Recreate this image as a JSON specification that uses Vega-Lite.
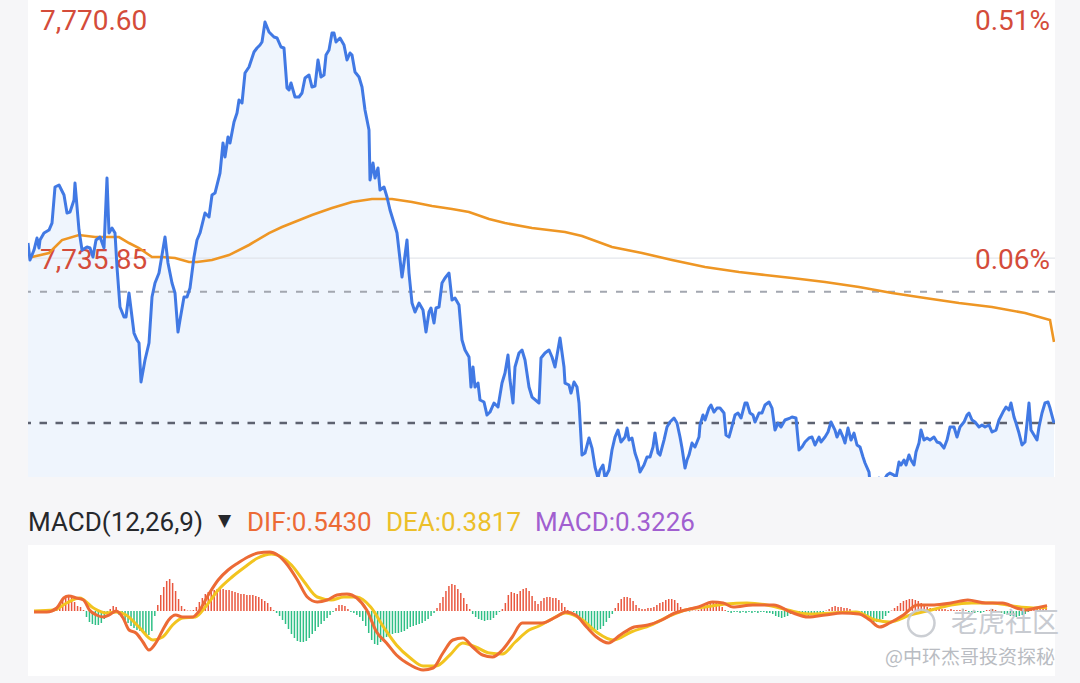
{
  "$schema": "https://vega.github.io/schema/vega-lite/v6.json",
  "background": "#f6f6f8",
  "padding": {"left": 26, "top": 0, "right": 27, "bottom": 7},
  "spacing": 0,
  "config": {"view": {"stroke": null}, "text": {"font": "Roboto"}},
  "datasets": {
    "one": [{"k": 1}],
    "price": [
      {"m":0,"p":7738.07},{"m":1,"p":7735.57},{"m":3,"p":7737.04},{"m":4.5,"p":7738.81},{"m":5.5,"p":7737.33},{"m":6,"p":7738.51},{"m":8,"p":7739.54},{"m":10.5,"p":7739.98},{"m":12,"p":7741.01},{"m":13.5,"p":7746.31},{"m":15.5,"p":7746.61},{"m":18,"p":7745.14},{"m":19.5,"p":7742.49},{"m":21,"p":7742.63},{"m":23,"p":7744.40},{"m":23.5,"p":7746.90},{"m":25.5,"p":7739.98},{"m":27,"p":7737.04},{"m":29.5,"p":7737.48},{"m":31,"p":7737.33},{"m":32.5,"p":7736.01},{"m":34,"p":7738.51},{"m":36,"p":7738.95},{"m":38,"p":7737.33},{"m":39.5,"p":7747.64},{"m":40.5,"p":7739.54},{"m":42,"p":7740.28},{"m":43.5,"p":7739.54},{"m":44.5,"p":7734.54},{"m":46,"p":7728.65},{"m":48,"p":7727.18},{"m":49,"p":7727.18},{"m":50.5,"p":7730.71},{"m":52,"p":7727.18},{"m":53,"p":7724.82},{"m":54.5,"p":7723.79},{"m":55.5,"p":7723.35},{"m":56.5,"p":7717.61},{"m":58.5,"p":7720.85},{"m":60.5,"p":7723.35},{"m":62,"p":7730.12},{"m":63.5,"p":7732.18},{"m":65.5,"p":7733.65},{"m":68.5,"p":7738.95},{"m":70,"p":7735.13},{"m":72,"p":7732.18},{"m":73.5,"p":7730.71},{"m":75,"p":7724.97},{"m":76,"p":7726.74},{"m":78,"p":7730.12},{"m":79.5,"p":7730.12},{"m":81,"p":7731.45},{"m":83,"p":7736.01},{"m":84.5,"p":7738.51},{"m":86,"p":7739.54},{"m":88.5,"p":7742.49},{"m":90.5,"p":7741.90},{"m":92,"p":7745.14},{"m":93.5,"p":7745.43},{"m":96,"p":7748.37},{"m":97.5,"p":7752.79},{"m":98.5,"p":7750.73},{"m":100,"p":7753.67},{"m":101,"p":7752.79},{"m":103,"p":7755.88},{"m":104.5,"p":7757.21},{"m":105.5,"p":7759.12},{"m":107,"p":7758.68},{"m":108.5,"p":7763.09},{"m":110.5,"p":7763.98},{"m":113,"p":7766.19},{"m":114.5,"p":7766.77},{"m":116,"p":7767.22},{"m":117,"p":7767.66},{"m":118.5,"p":7770.60},{"m":120.5,"p":7769.13},{"m":123,"p":7768.39},{"m":124.5,"p":7768.25},{"m":126.5,"p":7766.92},{"m":128,"p":7766.77},{"m":129.5,"p":7760.89},{"m":130.5,"p":7760.59},{"m":131.5,"p":7761.62},{"m":133.5,"p":7759.56},{"m":135.5,"p":7759.56},{"m":137,"p":7760.15},{"m":138.5,"p":7762.36},{"m":140.5,"p":7762.80},{"m":142,"p":7761.03},{"m":143.5,"p":7761.18},{"m":145,"p":7765.01},{"m":146.5,"p":7762.51},{"m":148,"p":7762.80},{"m":149,"p":7765.74},{"m":150.5,"p":7766.48},{"m":152,"p":7768.98},{"m":153,"p":7768.98},{"m":154,"p":7767.66},{"m":156,"p":7768.25},{"m":158,"p":7767.22},{"m":159.5,"p":7765.01},{"m":161,"p":7766.04},{"m":162,"p":7765.74},{"m":163.5,"p":7763.24},{"m":165.5,"p":7762.51},{"m":167,"p":7761.03},{"m":168.5,"p":7757.65},{"m":170.5,"p":7754.70},{"m":171,"p":7747.34},{"m":172.5,"p":7749.85},{"m":173.5,"p":7747.64},{"m":175,"p":7749.11},{"m":176,"p":7745.87},{"m":178,"p":7746.31},{"m":179.5,"p":7744.84},{"m":181,"p":7742.93},{"m":183,"p":7741.01},{"m":184.5,"p":7739.54},{"m":187,"p":7733.07},{"m":188,"p":7735.13},{"m":189.5,"p":7738.51},{"m":190.5,"p":7733.65},{"m":192,"p":7729.24},{"m":193.5,"p":7727.91},{"m":195.5,"p":7729.24},{"m":197.5,"p":7728.21},{"m":199,"p":7724.97},{"m":200.5,"p":7727.91},{"m":201.5,"p":7728.50},{"m":203,"p":7726.29},{"m":204,"p":7728.50},{"m":205.5,"p":7728.65},{"m":207,"p":7732.18},{"m":208.5,"p":7732.92},{"m":210.5,"p":7733.65},{"m":212,"p":7729.68},{"m":213.5,"p":7729.97},{"m":215.5,"p":7728.94},{"m":217,"p":7723.79},{"m":218.5,"p":7722.32},{"m":220.5,"p":7721.29},{"m":221.5,"p":7716.87},{"m":222.5,"p":7719.82},{"m":223.5,"p":7716.87},{"m":225,"p":7717.46},{"m":226,"p":7714.96},{"m":228,"p":7714.67},{"m":229.5,"p":7712.75},{"m":231,"p":7713.19},{"m":233,"p":7714.52},{"m":235,"p":7713.93},{"m":237,"p":7717.46},{"m":238.5,"p":7718.93},{"m":240,"p":7721.58},{"m":241,"p":7717.90},{"m":242.5,"p":7714.52},{"m":243.5,"p":7719.82},{"m":245.5,"p":7721.88},{"m":247,"p":7722.32},{"m":248.5,"p":7720.85},{"m":250.5,"p":7716.87},{"m":252,"p":7715.40},{"m":255.5,"p":7714.52},{"m":256.5,"p":7721.14},{"m":258.5,"p":7721.88},{"m":260.5,"p":7722.32},{"m":262,"p":7721.29},{"m":263.5,"p":7719.82},{"m":266,"p":7724.09},{"m":268,"p":7719.82},{"m":268.5,"p":7717.46},{"m":270.5,"p":7717.17},{"m":271.5,"p":7715.99},{"m":273,"p":7717.61},{"m":274.5,"p":7716.87},{"m":275.5,"p":7714.52},{"m":277,"p":7706.86},{"m":278.5,"p":7707.16},{"m":280.5,"p":7709.37},{"m":282,"p":7707.89},{"m":283.5,"p":7705.10},{"m":285,"p":7703.48},{"m":286,"p":7704.66},{"m":287.5,"p":7705.39},{"m":288.5,"p":7703.48},{"m":290.5,"p":7704.66},{"m":292,"p":7707.60},{"m":293.5,"p":7709.51},{"m":295,"p":7710.54},{"m":296.5,"p":7708.78},{"m":298.5,"p":7709.51},{"m":299.5,"p":7710.84},{"m":300.5,"p":7709.07},{"m":302,"p":7709.37},{"m":303.5,"p":7707.16},{"m":305,"p":7705.83},{"m":306,"p":7704.36},{"m":308,"p":7705.39},{"m":309.5,"p":7706.57},{"m":311,"p":7706.57},{"m":312.5,"p":7708.04},{"m":313.5,"p":7710.10},{"m":315,"p":7707.16},{"m":316,"p":7706.86},{"m":318,"p":7709.07},{"m":319.5,"p":7710.99},{"m":321,"p":7711.72},{"m":323,"p":7712.31},{"m":324.5,"p":7711.57},{"m":326,"p":7709.51},{"m":327,"p":7707.89},{"m":328.5,"p":7704.95},{"m":329.5,"p":7706.13},{"m":330.5,"p":7706.86},{"m":332,"p":7708.63},{"m":333.5,"p":7708.04},{"m":335.5,"p":7709.51},{"m":336,"p":7711.28},{"m":337.5,"p":7712.75},{"m":338.5,"p":7712.02},{"m":340.5,"p":7713.78},{"m":341.5,"p":7714.22},{"m":343,"p":7713.19},{"m":344.5,"p":7713.78},{"m":346,"p":7713.78},{"m":348,"p":7713.05},{"m":349,"p":7709.81},{"m":350.5,"p":7709.51},{"m":351.5,"p":7710.54},{"m":353.5,"p":7712.75},{"m":355,"p":7713.05},{"m":356.5,"p":7712.31},{"m":358.5,"p":7714.52},{"m":359.5,"p":7714.52},{"m":361,"p":7713.05},{"m":362.5,"p":7712.75},{"m":363.5,"p":7711.72},{"m":365.5,"p":7713.05},{"m":367,"p":7713.05},{"m":368.5,"p":7714.22},{"m":370.5,"p":7714.67},{"m":372,"p":7713.78},{"m":373.5,"p":7710.54},{"m":375,"p":7711.57},{"m":376.5,"p":7710.99},{"m":378.5,"p":7712.02},{"m":381,"p":7712.31},{"m":382,"p":7712.46},{"m":384,"p":7712.31},{"m":385.5,"p":7707.60},{"m":387,"p":7708.04},{"m":388.5,"p":7708.78},{"m":390.5,"p":7709.37},{"m":392,"p":7709.51},{"m":393.5,"p":7708.34},{"m":395.5,"p":7709.51},{"m":396.5,"p":7708.78},{"m":398.5,"p":7709.51},{"m":400,"p":7710.25},{"m":401.5,"p":7711.72},{"m":403.5,"p":7710.54},{"m":404.5,"p":7709.51},{"m":406,"p":7710.54},{"m":407.5,"p":7709.51},{"m":408.5,"p":7708.63},{"m":410,"p":7710.84},{"m":411.5,"p":7709.07},{"m":413,"p":7710.10},{"m":414.5,"p":7708.34},{"m":416,"p":7708.04},{"m":417.5,"p":7706.57},{"m":418.5,"p":7705.69},{"m":420.5,"p":7704.36},{"m":421,"p":7702.74},{"m":423.5,"p":7702.15},{"m":425.5,"p":7703.48},{"m":428,"p":7703.18},{"m":429.5,"p":7703.92},{"m":431,"p":7704.21},{"m":433,"p":7703.92},{"m":434,"p":7703.48},{"m":435.5,"p":7705.83},{"m":436.5,"p":7705.39},{"m":438,"p":7706.13},{"m":439,"p":7705.39},{"m":440.5,"p":7706.86},{"m":441.5,"p":7706.13},{"m":443,"p":7705.39},{"m":444,"p":7707.31},{"m":445.5,"p":7708.63},{"m":446.5,"p":7710.54},{"m":448,"p":7709.07},{"m":449.5,"p":7709.37},{"m":451,"p":7709.07},{"m":453,"p":7709.51},{"m":454.5,"p":7708.78},{"m":456,"p":7708.63},{"m":458,"p":7707.89},{"m":459.5,"p":7709.07},{"m":461,"p":7710.99},{"m":463,"p":7710.99},{"m":464.5,"p":7709.51},{"m":466,"p":7710.99},{"m":468,"p":7711.72},{"m":469.5,"p":7712.75},{"m":470.5,"p":7713.05},{"m":472,"p":7712.02},{"m":473.5,"p":7711.72},{"m":475.5,"p":7710.99},{"m":477,"p":7711.28},{"m":478.5,"p":7710.99},{"m":480.5,"p":7711.28},{"m":482,"p":7710.25},{"m":484,"p":7710.54},{"m":485.5,"p":7712.02},{"m":487.5,"p":7713.19},{"m":489,"p":7713.93},{"m":490.5,"p":7713.49},{"m":491.5,"p":7714.52},{"m":493,"p":7712.46},{"m":494,"p":7711.57},{"m":495.5,"p":7710.10},{"m":497,"p":7708.34},{"m":498.5,"p":7708.78},{"m":499.5,"p":7711.57},{"m":500.5,"p":7714.52},{"m":501.5,"p":7710.54},{"m":503,"p":7709.81},{"m":504.5,"p":7709.07},{"m":505.5,"p":7710.99},{"m":507,"p":7713.05},{"m":508.5,"p":7714.52},{"m":510,"p":7714.67},{"m":511,"p":7713.78},{"m":513,"p":7711.57}
    ],
    "avg": [
      {"m":0.5,"p":7735.86},{"m":2,"p":7736.01},{"m":10.5,"p":7736.60},{"m":17,"p":7738.51},{"m":25.5,"p":7739.25},{"m":33.5,"p":7738.95},{"m":40.5,"p":7738.95},{"m":45.5,"p":7738.95},{"m":50.5,"p":7738.07},{"m":55.5,"p":7737.33},{"m":62,"p":7736.01},{"m":67,"p":7736.01},{"m":73.5,"p":7735.86},{"m":80.5,"p":7735.27},{"m":84.5,"p":7735.27},{"m":92,"p":7735.57},{"m":100.5,"p":7736.30},{"m":110.5,"p":7737.78},{"m":120.5,"p":7739.54},{"m":127,"p":7740.43},{"m":132,"p":7741.01},{"m":142,"p":7742.19},{"m":152,"p":7743.22},{"m":162,"p":7744.11},{"m":172,"p":7744.55},{"m":182,"p":7744.55},{"m":192,"p":7744.11},{"m":202,"p":7743.52},{"m":212,"p":7743.08},{"m":220.5,"p":7742.63},{"m":230.5,"p":7741.60},{"m":238.5,"p":7741.01},{"m":252,"p":7740.28},{"m":268.5,"p":7739.69},{"m":277,"p":7739.10},{"m":292,"p":7737.48},{"m":307,"p":7736.60},{"m":322,"p":7735.57},{"m":338.5,"p":7734.54},{"m":355.5,"p":7733.80},{"m":368.5,"p":7733.36},{"m":382,"p":7732.92},{"m":398.5,"p":7732.33},{"m":415.5,"p":7731.59},{"m":432,"p":7730.71},{"m":448.5,"p":7729.97},{"m":465.5,"p":7729.24},{"m":482,"p":7728.65},{"m":498.5,"p":7727.77},{"m":511,"p":7726.74},{"m":513,"p":7723.50}
    ],
    "dif": [
      {"m":0.5,"v":-0.1},{"m":7,"v":-0.1},{"m":12,"v":0.3},{"m":15.5,"v":1.3},{"m":18,"v":1.5},{"m":22,"v":1.3},{"m":25.5,"v":1.1},{"m":28.5,"v":0.1},{"m":32,"v":-0.4},{"m":35.5,"v":-0.6},{"m":38.5,"v":-0.4},{"m":42,"v":0.0},{"m":45.5,"v":-0.7},{"m":48.5,"v":-1.9},{"m":52,"v":-2.2},{"m":55.5,"v":-3.1},{"m":58.5,"v":-3.9},{"m":62,"v":-3.2},{"m":65.5,"v":-1.9},{"m":68.5,"v":-0.9},{"m":72,"v":-0.4},{"m":75.5,"v":-0.6},{"m":80.5,"v":-0.6},{"m":83.5,"v":-0.1},{"m":88.5,"v":1.6},{"m":93.5,"v":3.1},{"m":98.5,"v":4.1},{"m":103.5,"v":4.8},{"m":108.5,"v":5.4},{"m":113.5,"v":5.8},{"m":119.5,"v":5.9},{"m":123.5,"v":5.6},{"m":128.5,"v":4.6},{"m":133.5,"v":3.1},{"m":138.5,"v":1.4},{"m":143.5,"v":0.9},{"m":148.5,"v":1.1},{"m":153.5,"v":1.6},{"m":158.5,"v":1.7},{"m":163.5,"v":1.3},{"m":168.5,"v":0.1},{"m":173.5,"v":-2.1},{"m":178.5,"v":-3.2},{"m":183.5,"v":-4.4},{"m":190.5,"v":-5.4},{"m":197,"v":-5.9},{"m":202,"v":-5.7},{"m":207,"v":-4.2},{"m":212,"v":-2.9},{"m":217,"v":-2.7},{"m":222,"v":-3.6},{"m":227,"v":-4.4},{"m":232,"v":-4.6},{"m":237,"v":-3.9},{"m":242,"v":-2.6},{"m":247,"v":-1.2},{"m":252,"v":-1.2},{"m":257,"v":-1.2},{"m":264,"v":-0.6},{"m":269,"v":-0.1},{"m":274,"v":-0.4},{"m":279.5,"v":-1.6},{"m":284.5,"v":-2.6},{"m":290.5,"v":-3.2},{"m":296.5,"v":-2.4},{"m":303.5,"v":-1.6},{"m":310.5,"v":-1.4},{"m":317.5,"v":-0.9},{"m":324,"v":-0.2},{"m":329.5,"v":0.1},{"m":336,"v":0.4},{"m":343,"v":0.9},{"m":348.5,"v":0.8},{"m":353.5,"v":0.4},{"m":363.5,"v":0.6},{"m":374,"v":0.6},{"m":382.5,"v":-0.1},{"m":391.5,"v":-0.6},{"m":400,"v":-0.4},{"m":408.5,"v":-0.2},{"m":417,"v":-0.3},{"m":422.5,"v":-0.9},{"m":427.5,"v":-1.6},{"m":432.5,"v":-1.2},{"m":439.5,"v":-0.4},{"m":446.5,"v":0.6},{"m":455,"v":0.6},{"m":463.5,"v":0.8},{"m":472,"v":1.1},{"m":481,"v":0.8},{"m":489.5,"v":0.8},{"m":496.5,"v":0.3},{"m":501.5,"v":0.1},{"m":506.5,"v":0.3},{"m":512,"v":0.54}
    ],
    "dea": [
      {"m":0.5,"v":0.0},{"m":10.5,"v":0.1},{"m":17,"v":0.8},{"m":23.5,"v":1.3},{"m":30.5,"v":0.3},{"m":37,"v":-0.2},{"m":42,"v":-0.1},{"m":47,"v":-0.4},{"m":53.5,"v":-1.6},{"m":60.5,"v":-2.9},{"m":65.5,"v":-2.6},{"m":70.5,"v":-1.4},{"m":75.5,"v":-0.7},{"m":82,"v":-0.6},{"m":87,"v":0.4},{"m":93.5,"v":2.1},{"m":100.5,"v":3.4},{"m":107,"v":4.4},{"m":113.5,"v":5.3},{"m":120.5,"v":5.7},{"m":125.5,"v":5.4},{"m":130.5,"v":4.6},{"m":137,"v":2.9},{"m":143.5,"v":1.4},{"m":150.5,"v":1.1},{"m":157,"v":1.4},{"m":163.5,"v":1.4},{"m":170.5,"v":0.4},{"m":177,"v":-1.6},{"m":183.5,"v":-3.4},{"m":190.5,"v":-4.7},{"m":197,"v":-5.5},{"m":203.5,"v":-5.5},{"m":210.5,"v":-4.4},{"m":217,"v":-3.2},{"m":223.5,"v":-3.6},{"m":230.5,"v":-4.2},{"m":237,"v":-4.3},{"m":243.5,"v":-3.1},{"m":250.5,"v":-1.9},{"m":255.5,"v":-1.5},{"m":262,"v":-0.8},{"m":269,"v":-0.2},{"m":277.5,"v":-0.9},{"m":284.5,"v":-2.1},{"m":293,"v":-2.9},{"m":302,"v":-2.1},{"m":312,"v":-1.4},{"m":322.5,"v":-0.4},{"m":329.5,"v":0.1},{"m":339.5,"v":0.4},{"m":350,"v":0.7},{"m":360.5,"v":0.8},{"m":370.5,"v":0.6},{"m":381,"v":0.1},{"m":391.5,"v":-0.3},{"m":403.5,"v":-0.2},{"m":415.5,"v":-0.1},{"m":425.5,"v":-0.9},{"m":432.5,"v":-1.1},{"m":443,"v":-0.4},{"m":453.5,"v":0.1},{"m":463.5,"v":0.6},{"m":474,"v":0.8},{"m":484.5,"v":0.8},{"m":494.5,"v":0.5},{"m":505,"v":0.3},{"m":512,"v":0.38}
    ],
    "hist": [
      {"m":9,"h":0.1},{"m":10.5,"h":0.2},{"m":12,"h":0.4},{"m":13.5,"h":0.7},{"m":15,"h":1.2},{"m":16.5,"h":1.4},{"m":18,"h":1.4},{"m":19.5,"h":1.3},{"m":21,"h":0.9},{"m":22.5,"h":0.5},{"m":24,"h":0.4},{"m":25.5,"h":0.1},
      {"m":27,"h":-0.6},{"m":28.5,"h":-1.1},{"m":30,"h":-1.3},{"m":31.5,"h":-1.4},{"m":33,"h":-1.4},{"m":34.5,"h":-1.2},{"m":36,"h":-0.8},{"m":37.5,"h":-0.3},
      {"m":39,"h":0.2},{"m":40.5,"h":0.5},{"m":42,"h":0.4},
      {"m":43.5,"h":-0.4},{"m":45,"h":-0.7},{"m":46.5,"h":-0.9},{"m":48,"h":-1.2},{"m":49.5,"h":-1.5},{"m":51,"h":-1.7},{"m":52.5,"h":-1.9},{"m":54,"h":-2.0},{"m":55.5,"h":-2.2},{"m":57,"h":-2.4},{"m":58.5,"h":-2.4},{"m":60,"h":-2.0},{"m":61.5,"h":-0.5},
      {"m":63,"h":0.6},{"m":64.5,"h":1.6},{"m":66,"h":2.4},{"m":67.5,"h":3.0},{"m":69,"h":3.2},{"m":70.5,"h":2.8},{"m":72,"h":2.0},{"m":73.5,"h":1.2},{"m":75,"h":0.5},{"m":76.5,"h":0.2},
      {"m":78,"h":0.05},{"m":79.5,"h":0.05},{"m":81,"h":0.1},
      {"m":82.5,"h":0.4},{"m":84,"h":0.9},{"m":85.5,"h":1.3},{"m":87,"h":1.7},{"m":88.5,"h":1.9},{"m":90,"h":2.1},{"m":91.5,"h":2.1},{"m":93,"h":2.2},{"m":94.5,"h":2.2},{"m":96,"h":2.2},{"m":97.5,"h":2.1},{"m":99,"h":2.1},{"m":100.5,"h":2.0},{"m":102,"h":1.9},{"m":103.5,"h":1.8},{"m":105,"h":1.7},{"m":106.5,"h":1.7},{"m":108,"h":1.6},{"m":109.5,"h":1.6},{"m":111,"h":1.6},{"m":112.5,"h":1.5},{"m":114,"h":1.4},{"m":115.5,"h":1.2},{"m":117,"h":1.0},{"m":118.5,"h":0.8},{"m":120,"h":0.4},{"m":121.5,"h":0.1},
      {"m":123,"h":-0.2},{"m":124.5,"h":-0.5},{"m":126,"h":-0.9},{"m":127.5,"h":-1.3},{"m":129,"h":-1.8},{"m":130.5,"h":-2.3},{"m":132,"h":-2.7},{"m":133.5,"h":-3.0},{"m":135,"h":-3.1},{"m":136.5,"h":-3.1},{"m":138,"h":-3.0},{"m":139.5,"h":-2.7},{"m":141,"h":-2.3},{"m":142.5,"h":-2.0},{"m":144,"h":-1.6},{"m":145.5,"h":-1.3},{"m":147,"h":-1.0},{"m":148.5,"h":-0.7},{"m":150,"h":-0.4},{"m":151.5,"h":-0.1},
      {"m":153,"h":0.3},{"m":154.5,"h":0.6},{"m":156,"h":0.6},{"m":157.5,"h":0.5},{"m":159,"h":0.2},
      {"m":160.5,"h":-0.1},{"m":162,"h":-0.2},{"m":163.5,"h":-0.4},{"m":165,"h":-0.6},{"m":166.5,"h":-1.0},{"m":168,"h":-1.5},{"m":169.5,"h":-2.2},{"m":171,"h":-2.9},{"m":172.5,"h":-3.3},{"m":174,"h":-3.4},{"m":175.5,"h":-3.1},{"m":177,"h":-2.8},{"m":178.5,"h":-2.6},{"m":180,"h":-2.4},{"m":181.5,"h":-2.3},{"m":183,"h":-2.2},{"m":184.5,"h":-2.2},{"m":186,"h":-2.1},{"m":187.5,"h":-2.0},{"m":189,"h":-1.8},{"m":190.5,"h":-1.6},{"m":192,"h":-1.5},{"m":193.5,"h":-1.4},{"m":195,"h":-1.3},{"m":196.5,"h":-1.2},{"m":198,"h":-1.0},{"m":199.5,"h":-0.8},{"m":201,"h":-0.5},{"m":202.5,"h":-0.2},
      {"m":204,"h":0.3},{"m":205.5,"h":0.8},{"m":207,"h":1.4},{"m":208.5,"h":2.0},{"m":210,"h":2.5},{"m":211.5,"h":2.7},{"m":213,"h":2.6},{"m":214.5,"h":2.2},{"m":216,"h":1.8},{"m":217.5,"h":1.3},{"m":219,"h":0.7},{"m":220.5,"h":0.2},
      {"m":222,"h":-0.3},{"m":223.5,"h":-0.6},{"m":225,"h":-0.8},{"m":226.5,"h":-0.9},{"m":228,"h":-1.0},{"m":229.5,"h":-0.9},{"m":231,"h":-0.9},{"m":232.5,"h":-0.7},{"m":234,"h":-0.4},{"m":235.5,"h":-0.1},
      {"m":237,"h":0.2},{"m":238.5,"h":0.8},{"m":240,"h":1.6},{"m":241.5,"h":1.9},{"m":243,"h":1.8},{"m":244.5,"h":1.7},{"m":246,"h":2.0},{"m":247.5,"h":2.2},{"m":249,"h":2.3},{"m":250.5,"h":2.0},{"m":252,"h":1.5},{"m":253.5,"h":1.0},{"m":255,"h":0.7},{"m":256.5,"h":1.0},{"m":258,"h":1.3},{"m":259.5,"h":1.4},{"m":261,"h":1.4},{"m":262.5,"h":1.3},{"m":264,"h":1.3},{"m":265.5,"h":1.1},{"m":267,"h":0.8},{"m":268.5,"h":0.4},{"m":270,"h":0.1},
      {"m":273,"h":-0.1},{"m":274.5,"h":-0.4},{"m":276,"h":-0.8},{"m":277.5,"h":-1.2},{"m":279,"h":-1.5},{"m":280.5,"h":-1.7},{"m":282,"h":-1.9},{"m":283.5,"h":-1.9},{"m":285,"h":-1.9},{"m":286.5,"h":-1.8},{"m":288,"h":-1.5},{"m":289.5,"h":-1.1},{"m":291,"h":-0.7},{"m":292.5,"h":-0.3},
      {"m":294,"h":0.3},{"m":295.5,"h":0.8},{"m":297,"h":1.2},{"m":298.5,"h":1.4},{"m":300,"h":1.4},{"m":301.5,"h":1.3},{"m":303,"h":1.0},{"m":304.5,"h":0.6},{"m":306,"h":0.3},
      {"m":307.5,"h":0.2},{"m":309,"h":0.2},{"m":310.5,"h":0.3},{"m":312,"h":0.3},{"m":313.5,"h":0.4},
      {"m":315,"h":0.6},{"m":316.5,"h":0.8},{"m":318,"h":0.9},{"m":319.5,"h":1.1},{"m":321,"h":1.2},{"m":322.5,"h":1.2},{"m":324,"h":1.1},{"m":325.5,"h":0.8},{"m":327,"h":0.4},
      {"m":328.5,"h":0.1},{"m":330,"h":0.05},{"m":331.5,"h":-0.05},{"m":333,"h":0.05},{"m":334.5,"h":0.05},{"m":336,"h":0.1},
      {"m":337.5,"h":0.2},{"m":339,"h":0.5},{"m":340.5,"h":0.7},{"m":342,"h":0.9},{"m":343.5,"h":1.0},{"m":345,"h":1.0},{"m":346.5,"h":0.8},{"m":348,"h":0.4},{"m":349.5,"h":0.1},
      {"m":351,"h":-0.1},{"m":352.5,"h":-0.2},{"m":354,"h":-0.1},{"m":355.5,"h":-0.1},{"m":357,"h":-0.2},{"m":358.5,"h":-0.1},{"m":360,"h":-0.2},{"m":361.5,"h":-0.1},{"m":363,"h":-0.2},{"m":364.5,"h":-0.1},{"m":366,"h":-0.2},{"m":367.5,"h":-0.1},{"m":369,"h":-0.1},{"m":370.5,"h":-0.2},{"m":372,"h":-0.2},
      {"m":373.5,"h":-0.3},{"m":375,"h":-0.5},{"m":376.5,"h":-0.6},{"m":378,"h":-0.7},{"m":379.5,"h":-0.6},{"m":381,"h":-0.5},{"m":382.5,"h":-0.3},{"m":384,"h":-0.2},{"m":385.5,"h":-0.1},
      {"m":387,"h":-0.2},{"m":388.5,"h":-0.3},{"m":390,"h":-0.4},{"m":391.5,"h":-0.5},{"m":393,"h":-0.4},{"m":394.5,"h":-0.4},{"m":396,"h":-0.3},{"m":397.5,"h":-0.2},{"m":399,"h":-0.1},{"m":400.5,"h":0.05},
      {"m":402,"h":0.2},{"m":403.5,"h":0.4},{"m":405,"h":0.5},{"m":406.5,"h":0.4},{"m":408,"h":0.4},{"m":409.5,"h":0.3},{"m":411,"h":0.3},{"m":412.5,"h":0.2},{"m":414,"h":-0.1},{"m":415.5,"h":-0.1},
      {"m":417,"h":-0.2},{"m":418.5,"h":-0.4},{"m":420,"h":-0.6},{"m":421.5,"h":-0.8},{"m":423,"h":-1.0},{"m":424.5,"h":-1.1},{"m":426,"h":-1.1},{"m":427.5,"h":-1.0},{"m":429,"h":-0.8},{"m":430.5,"h":-0.5},{"m":432,"h":-0.2},{"m":433.5,"h":0.05},
      {"m":435,"h":0.3},{"m":436.5,"h":0.5},{"m":438,"h":0.8},{"m":439.5,"h":1.0},{"m":441,"h":1.1},{"m":442.5,"h":1.2},{"m":444,"h":1.2},{"m":445.5,"h":1.1},{"m":447,"h":1.0},{"m":448.5,"h":0.8},{"m":450,"h":0.6},{"m":451.5,"h":0.4},{"m":453,"h":0.3},
      {"m":454.5,"h":0.3},{"m":456,"h":0.2},{"m":457.5,"h":0.3},{"m":459,"h":0.2},{"m":460.5,"h":0.2},{"m":462,"h":0.1},{"m":463.5,"h":0.2},{"m":465,"h":0.1},{"m":466.5,"h":0.1},{"m":468,"h":0.1},{"m":469.5,"h":0.2},{"m":471,"h":0.1},{"m":472.5,"h":-0.1},{"m":474,"h":-0.1},{"m":475.5,"h":-0.2},{"m":477,"h":-0.1},{"m":478.5,"h":-0.2},{"m":480,"h":-0.1},{"m":481.5,"h":0.1},{"m":483,"h":0.1},{"m":484.5,"h":0.2},{"m":486,"h":0.1},{"m":487.5,"h":-0.1},{"m":489,"h":-0.2},{"m":490.5,"h":-0.3},{"m":492,"h":-0.4},{"m":493.5,"h":-0.5},{"m":495,"h":-0.5},{"m":496.5,"h":-0.6},{"m":498,"h":-0.5},{"m":499.5,"h":-0.4},{"m":501,"h":-0.3},{"m":502.5,"h":-0.1},{"m":504,"h":0.1},{"m":505.5,"h":0.2},{"m":507,"h":0.3},{"m":508.5,"h":0.3},{"m":510,"h":0.3},{"m":511.5,"h":0.32}
    ]
  },
  "vconcat": [
    {
      "width": 1027,
      "height": 477,
      "view": {"fill": "#ffffff", "stroke": null},
      "layer": [
        {
          "data": {"name": "price"},
          "mark": {"type": "area", "color": "#eff5fd", "clip": true},
          "encoding": {
            "x": {"field": "m", "type": "quantitative", "scale": {"domain": [0, 513.5], "nice": false, "zero": false}, "axis": null},
            "y": {"field": "p", "type": "quantitative", "scale": {"domain": [7703.63, 7773.84], "nice": false, "zero": false}, "axis": null},
            "y2": {"datum": 7703.63}
          }
        },
        {
          "data": {"name": "one"},
          "mark": {"type": "rule", "color": "#dde0e6", "strokeWidth": 1},
          "encoding": {"y": {"datum": 7735.85}}
        },
        {
          "data": {"name": "one"},
          "mark": {"type": "rule", "color": "#a3a7b0", "strokeWidth": 2.2, "strokeDash": [7, 9]},
          "encoding": {"y": {"datum": 7730.9}}
        },
        {
          "data": {"name": "one"},
          "mark": {"type": "rule", "color": "#5d6270", "strokeWidth": 2.6, "strokeDash": [7.5, 8.5]},
          "encoding": {"y": {"datum": 7711.57}}
        },
        {
          "data": {"name": "one"},
          "mark": {"type": "text", "text": "7,770.60", "align": "left", "baseline": "middle", "fontSize": 28, "color": "#d44c3a", "font": "Roboto"},
          "encoding": {"x": {"datum": 6}, "y": {"datum": 7770.6}}
        },
        {
          "data": {"name": "one"},
          "mark": {"type": "text", "text": "7,735.85", "align": "left", "baseline": "middle", "dy": 3, "fontSize": 28, "color": "#d44c3a", "font": "Roboto"},
          "encoding": {"x": {"datum": 6}, "y": {"datum": 7735.85}}
        },
        {
          "data": {"name": "one"},
          "mark": {"type": "text", "text": "0.51%", "align": "right", "baseline": "middle", "fontSize": 28, "color": "#d44c3a", "font": "Roboto"},
          "encoding": {"x": {"datum": 511}, "y": {"datum": 7770.6}}
        },
        {
          "data": {"name": "one"},
          "mark": {"type": "text", "text": "0.06%", "align": "right", "baseline": "middle", "dy": 3, "fontSize": 28, "color": "#d44c3a", "font": "Roboto"},
          "encoding": {"x": {"datum": 511}, "y": {"datum": 7735.85}}
        },
        {
          "data": {"name": "avg"},
          "mark": {"type": "line", "color": "#ee9624", "strokeWidth": 2.6, "clip": true},
          "encoding": {
            "x": {"field": "m", "type": "quantitative"},
            "y": {"field": "p", "type": "quantitative"}
          }
        },
        {
          "data": {"name": "price"},
          "mark": {"type": "line", "color": "#4179e4", "strokeWidth": 3, "strokeJoin": "round", "clip": true},
          "encoding": {
            "x": {"field": "m", "type": "quantitative"},
            "y": {"field": "p", "type": "quantitative"}
          }
        }
      ]
    },
    {
      "width": 1027,
      "height": 68,
      "view": {"fill": null, "stroke": null},
      "data": {"name": "one"},
      "layer": [
        {
          "mark": {"type": "text", "text": "MACD(12,26,9)", "align": "left", "baseline": "alphabetic", "dy": 20, "fontSize": 26, "color": "#26282c", "font": "Roboto"},
          "encoding": {"x": {"datum": 0, "scale": {"domain": [0, 513.5], "nice": false, "zero": false}, "axis": null}}
        },
        {
          "mark": {"type": "text", "text": "▼", "align": "left", "baseline": "middle", "dy": 10, "fontSize": 17, "color": "#26282c", "font": "DejaVu Sans"},
          "encoding": {"x": {"datum": 95}}
        },
        {
          "mark": {"type": "text", "text": "DIF:0.5430", "align": "left", "baseline": "alphabetic", "dy": 20, "fontSize": 26, "color": "#ec6a36", "font": "Roboto"},
          "encoding": {"x": {"datum": 109.5}}
        },
        {
          "mark": {"type": "text", "text": "DEA:0.3817", "align": "left", "baseline": "alphabetic", "dy": 20, "fontSize": 26, "color": "#ecbf2a", "font": "Roboto"},
          "encoding": {"x": {"datum": 179}}
        },
        {
          "mark": {"type": "text", "text": "MACD:0.3226", "align": "left", "baseline": "alphabetic", "dy": 20, "fontSize": 26, "color": "#a15fd0", "font": "Roboto"},
          "encoding": {"x": {"datum": 253.5}}
        }
      ]
    },
    {
      "width": 1027,
      "height": 131,
      "view": {"fill": "#ffffff", "stroke": null},
      "layer": [
        {
          "data": {"name": "hist"},
          "mark": {"type": "bar", "size": 1.5},
          "encoding": {
            "x": {"field": "m", "type": "quantitative", "scale": {"domain": [0, 513.5], "nice": false, "zero": false}, "axis": null},
            "y": {"field": "h", "type": "quantitative", "scale": {"domain": [-6.5, 6.6], "nice": false, "zero": false}, "axis": null},
            "y2": {"datum": 0},
            "color": {"condition": {"test": "datum.h > 0", "value": "#e9573f"}, "value": "#2fbf86"}
          }
        },
        {
          "data": {"name": "dea"},
          "mark": {"type": "line", "color": "#f2c41f", "strokeWidth": 3, "interpolate": "monotone"},
          "encoding": {
            "x": {"field": "m", "type": "quantitative"},
            "y": {"field": "v", "type": "quantitative"}
          }
        },
        {
          "data": {"name": "dif"},
          "mark": {"type": "line", "color": "#ec6a35", "strokeWidth": 3, "interpolate": "monotone"},
          "encoding": {
            "x": {"field": "m", "type": "quantitative"},
            "y": {"field": "v", "type": "quantitative"}
          }
        },
        {
          "data": {"name": "one"},
          "mark": {"type": "point", "shape": "circle", "filled": false, "size": 700, "strokeWidth": 2.5, "color": "#c6c9cf", "opacity": 0.9},
          "encoding": {"x": {"datum": 448.5}, "y": {"datum": -1.2}}
        },
        {
          "data": {"name": "one"},
          "mark": {"type": "text", "text": "老虎社区", "align": "left", "baseline": "middle", "fontSize": 27, "color": "#c6c9cf", "opacity": 0.95, "font": "Noto Sans CJK SC"},
          "encoding": {"x": {"datum": 463.5}, "y": {"datum": -1.3}}
        },
        {
          "data": {"name": "one"},
          "mark": {"type": "text", "text": "@中环杰哥投资探秘", "align": "right", "baseline": "middle", "fontSize": 19, "color": "#b9bcc2", "font": "Noto Sans CJK SC"},
          "encoding": {"x": {"datum": 516}, "y": {"datum": -4.7}}
        }
      ]
    }
  ]
}
